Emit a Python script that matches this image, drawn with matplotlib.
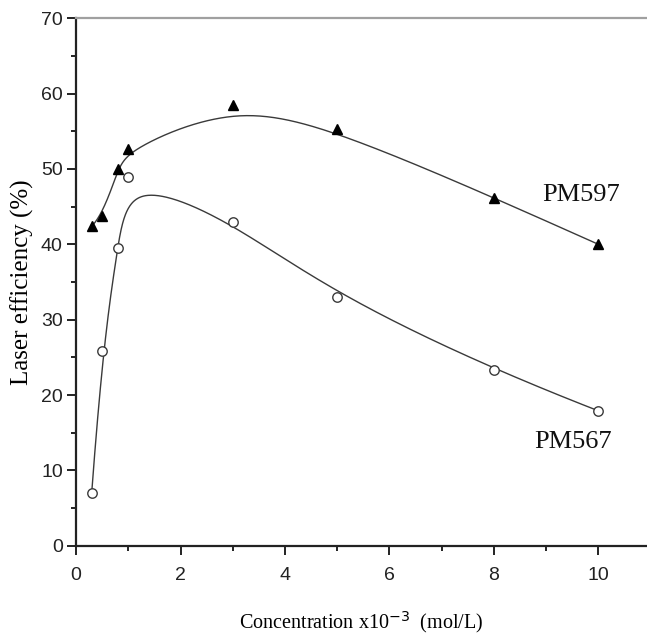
import numpy as np
import matplotlib
matplotlib.use("Agg")
import matplotlib.pyplot as plt
from matplotlib.ticker import MultipleLocator

# Dye concentration (x10^-3 mol/L) and laser efficiency (%)
conc = [0.3, 0.5, 0.8, 1.0, 3.0, 5.0, 8.0, 10.0]
eff_pm597 = [42.4, 43.8, 50.0, 52.6, 58.5, 55.3, 46.2, 40.0]
eff_pm567 = [7.0, 25.8, 39.5, 49.0, 43.0, 33.0, 23.3, 17.9]


def bspline(xs, ys, n=400, k=3):
    """Clamped B-spline using the data points as control points."""
    P = np.column_stack([xs, ys]).astype(float)
    m = len(P)
    inner = np.arange(1, m - k)
    t = np.concatenate([np.zeros(k + 1), inner, np.full(k + 1, m - k)]).astype(float)
    u = np.linspace(0, m - k, n)
    u[-1] -= 1e-9
    out = []
    for uu in u:
        j = np.searchsorted(t, uu, side="right") - 1
        d = [P[j - k + r].copy() for r in range(k + 1)]
        for r in range(1, k + 1):
            for i in range(k, r - 1, -1):
                a = (uu - t[j - k + i]) / (t[j + 1 + i - r] - t[j - k + i])
                d[i] = (1 - a) * d[i - 1] + a * d[i]
        out.append(d[k])
    out = np.array(out)
    return out[:, 0], out[:, 1]


plt.rcParams["font.family"] = ["Liberation Sans", "DejaVu Sans"]

fig = plt.figure(figsize=(6.47, 6.36), dpi=100)
ax = fig.add_axes([0.1175, 0.142, 0.8825, 0.8292])

line_col = "#3a3a3a"
cx, cy = bspline(conc, eff_pm597)
ax.plot(cx, cy, color=line_col, lw=1.0, zorder=2)
cx, cy = bspline(conc, eff_pm567)
ax.plot(cx, cy, color=line_col, lw=1.0, zorder=2)

ax.plot(conc, eff_pm597, ls="none", marker="^", ms=7.8, color="black", zorder=3)
ax.plot(conc, eff_pm567, ls="none", marker="o", ms=6.8, mfc="white",
        mec=line_col, mew=1.0, zorder=3)

ax.text(8.93, 46.5, "PM597", family="Liberation Serif", fontsize=19,
        ha="left", va="center", color="#111111")
ax.text(8.78, 13.8, "PM567", family="Liberation Serif", fontsize=19,
        ha="left", va="center", color="#111111")

ax.set_xlim(0, 10.93)
ax.set_ylim(0, 70)
ax.xaxis.set_major_locator(MultipleLocator(2))
ax.xaxis.set_minor_locator(MultipleLocator(1))
ax.yaxis.set_major_locator(MultipleLocator(10))
ax.yaxis.set_minor_locator(MultipleLocator(5))

ax.spines["right"].set_visible(False)
ax.spines["top"].set_color("#a0a0a0")
ax.spines["top"].set_linewidth(1.6)
for s in ("left", "bottom"):
    ax.spines[s].set_linewidth(1.6)
    ax.spines[s].set_color("#222222")

ax.tick_params(which="both", direction="out", top=False, right=False,
               color="#222222", width=1.4)
ax.tick_params(which="major", length=6.5, labelsize=14, pad=3,
               labelcolor="#222222")
ax.tick_params(which="minor", length=3.5)
ax.tick_params(axis="x", which="major", pad=9)

ax.set_xlabel(r"Concentration x10$^{-3}$  (mol/L)", family="Liberation Serif",
              fontsize=14.5, labelpad=18)
ax.set_ylabel("Laser efficiency (%)", family="Liberation Serif", fontsize=18,
              labelpad=5)

fig.savefig("out.png", dpi=100)
